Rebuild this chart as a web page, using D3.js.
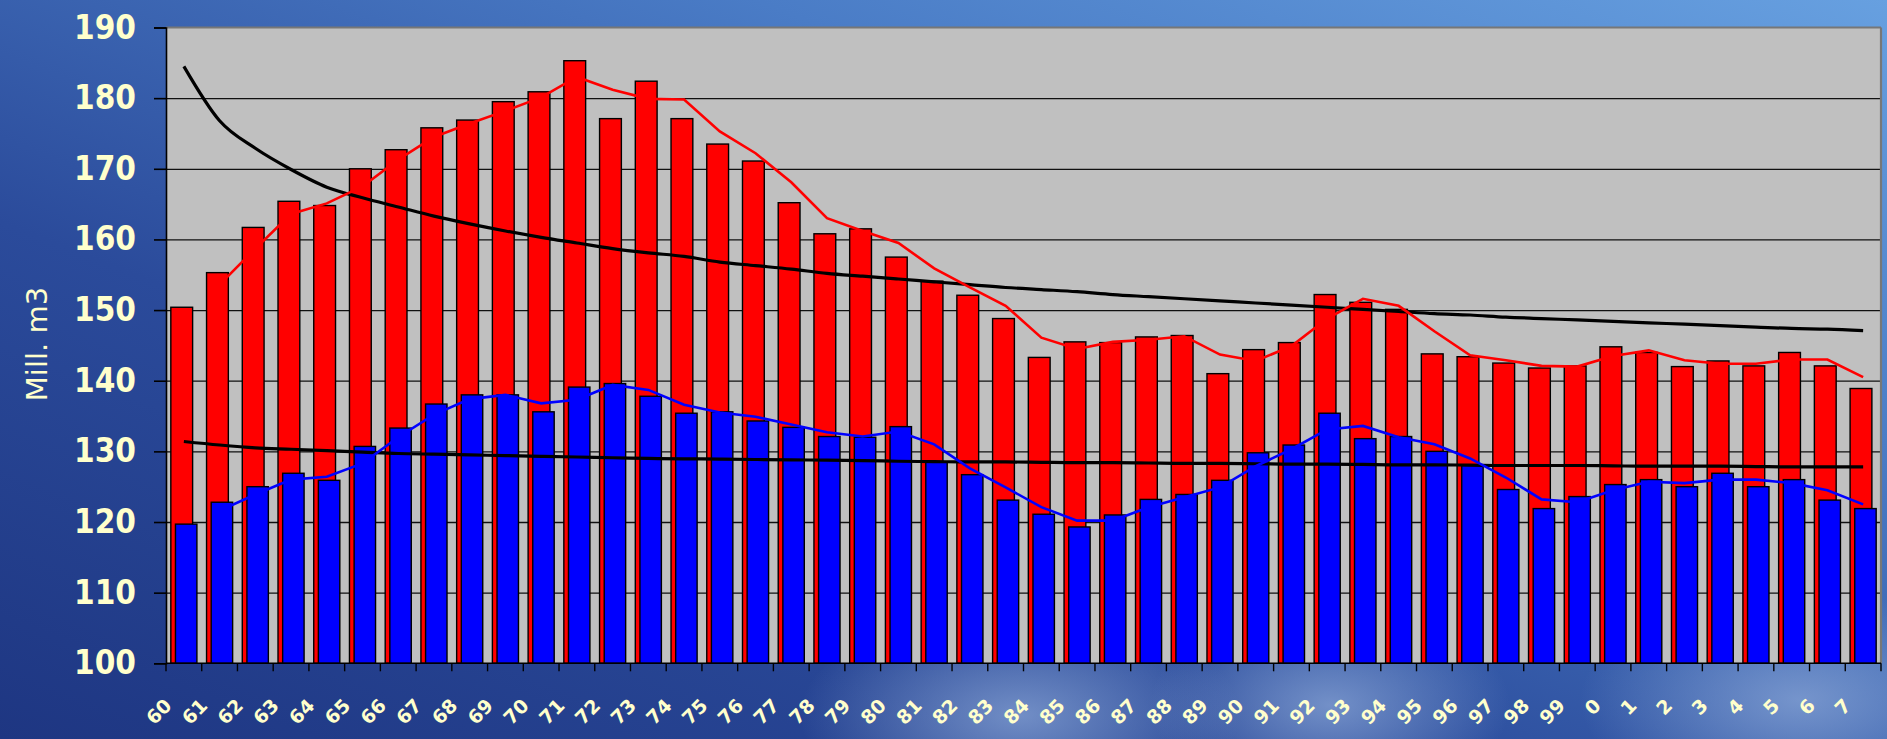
<!DOCTYPE html>
<html><head><meta charset="utf-8">
<script src="https://cdn.jsdelivr.net/npm/d3@7"></script>
<style>html,body{margin:0;padding:0;overflow:hidden;background:#2a4a98}</style>
</head><body>
<svg id="chart" width="1887" height="739"></svg>
<script>
// ---------- data ----------
const years = ["60","61","62","63","64","65","66","67","68","69","70","71","72","73","74","75","76","77","78","79",
  "80","81","82","83","84","85","86","87","88","89","90","91","92","93","94","95","96","97","98","99",
  "0","1","2","3","4","5","6","7"];
const redBars = [150.4,155.3,161.7,165.4,164.8,170.0,172.7,175.8,176.9,179.5,180.9,185.3,177.1,182.4,177.1,173.5,171.1,165.2,160.8,161.5,
  157.5,154.1,152.1,148.8,143.3,145.5,145.4,146.2,146.4,141.0,144.4,145.4,152.2,151.1,150.1,143.8,143.4,142.5,141.8,142.1,
  144.8,144.0,142.0,142.8,142.1,144.0,142.1,138.9];
const blueBars = [119.7,122.8,125.0,126.9,125.9,130.7,133.3,136.7,138.0,138.0,135.6,139.1,139.6,137.8,135.4,135.6,134.3,133.4,132.1,132.0,
  133.5,128.5,126.7,123.1,121.1,119.3,121.0,123.2,123.9,125.9,129.8,130.9,135.4,131.8,132.1,130.0,128.0,124.6,121.9,123.6,
  125.3,126.0,125.0,126.9,125.0,126.0,123.1,121.9];
const redLine = [null,153.6,158.7,163.6,165.1,167.5,171.3,174.5,176.4,178.2,180.1,183.0,181.2,179.9,179.8,175.3,172.2,168.1,163.0,161.2,
  159.5,155.9,153.2,150.6,146.1,144.5,145.5,145.8,146.3,143.7,142.8,144.9,148.8,151.6,150.6,147.0,143.6,142.9,142.1,142.0,
  143.5,144.3,142.9,142.4,142.4,143.0,143.0,140.5];
const blueLine = [null,121.6,123.9,126.0,126.4,128.3,132.0,135.2,137.4,138.0,136.8,137.3,139.4,138.7,136.6,135.5,134.9,133.8,132.7,132.1,
  132.8,131.0,127.6,124.9,122.1,120.2,120.2,122.1,123.5,124.9,127.9,130.3,133.1,133.6,132.0,131.0,129.0,126.3,123.2,122.8,
  124.5,125.7,125.5,126.0,126.0,125.5,124.5,122.5];
const redTrend = [184.5,176.8,172.9,169.9,167.4,165.9,164.6,163.3,162.2,161.2,160.3,159.5,158.7,158.1,157.6,156.8,156.3,155.8,155.2,154.8,
  154.4,154.0,153.6,153.2,152.9,152.6,152.2,151.9,151.6,151.3,151.0,150.7,150.4,150.1,149.8,149.5,149.3,149.0,148.8,148.6,
  148.4,148.2,148.0,147.8,147.6,147.4,147.3,147.1];
const blueTrend = [131.4,130.9,130.5,130.3,130.1,129.9,129.7,129.6,129.5,129.4,129.3,129.2,129.1,129.0,128.95,128.9,128.85,128.8,128.75,128.7,
  128.6,128.55,128.5,128.5,128.45,128.4,128.4,128.35,128.3,128.3,128.25,128.2,128.2,128.15,128.1,128.1,128.05,128.0,128.0,128.0,
  127.95,127.9,127.9,127.9,127.85,127.8,127.8,127.8];
const yTicks = [100,110,120,130,140,150,160,170,180,190];
const yTitle = "Mill. m3";

// ---------- layout ----------
const W = 1887, H = 739;
const L = 166, R = 1881, T = 27.5, B = 663.3;
const svg = d3.select("#chart");
const defs = svg.append("defs");

const bg = defs.append("linearGradient").attr("id","bg").attr("x1","0").attr("y1","1").attr("x2","1").attr("y2","0");
bg.append("stop").attr("offset","0").attr("stop-color","#1e3682");
bg.append("stop").attr("offset","0.35").attr("stop-color","#2b4b9b");
bg.append("stop").attr("offset","0.7").attr("stop-color","#4a7cc6");
bg.append("stop").attr("offset","1").attr("stop-color","#67a0e0");
const glow = defs.append("radialGradient").attr("id","glow");
glow.append("stop").attr("offset","0").attr("stop-color","#8aa6d6").attr("stop-opacity","0.75");
glow.append("stop").attr("offset","1").attr("stop-color","#8aa6d6").attr("stop-opacity","0");

svg.append("rect").attr("width",W).attr("height",H).attr("fill","url(#bg)");
svg.append("ellipse").attr("cx",1020).attr("cy",715).attr("rx",220).attr("ry",110).attr("fill","url(#glow)");
svg.append("ellipse").attr("cx",1330).attr("cy",705).attr("rx",180).attr("ry",100).attr("fill","url(#glow)");
svg.append("ellipse").attr("cx",1800).attr("cy",700).attr("rx",220).attr("ry",110).attr("fill","url(#glow)");

const x = d3.scaleBand().domain(years).range([L, R]).padding(0);
const y = d3.scaleLinear().domain([100, 190]).range([B, T]);
const bw = x.bandwidth();
const cx = d => x(d) + bw / 2;

// plot background
svg.append("rect").attr("x",L).attr("y",T).attr("width",R-L).attr("height",B-T).attr("fill","#c0c0c0");

// gridlines
svg.append("g").attr("transform",`translate(${L},0)`)
  .call(d3.axisLeft(y).tickValues(yTicks.filter(v => v > 100 && v < 190)).tickSize(-(R-L)).tickFormat(""))
  .call(g => g.select(".domain").remove())
  .call(g => g.selectAll("line").attr("stroke","#111").attr("stroke-width",1.3));

// red bars
svg.append("g").selectAll("rect").data(years).join("rect")
  .attr("x", d => x(d) + bw*0.135).attr("width", bw*0.61)
  .attr("y", (d,i) => y(redBars[i])).attr("height", (d,i) => B - y(redBars[i]))
  .attr("fill","#ff0000").attr("stroke","#000").attr("stroke-width",1.4);
// blue bars
svg.append("g").selectAll("rect").data(years).join("rect")
  .attr("x", d => x(d) + bw*0.265).attr("width", bw*0.6)
  .attr("y", (d,i) => y(blueBars[i])).attr("height", (d,i) => B - y(blueBars[i]))
  .attr("fill","#0000ff").attr("stroke","#000").attr("stroke-width",1.4);

// plot border top/right
svg.append("line").attr("x1",L).attr("x2",R).attr("y1",T).attr("y2",T).attr("stroke","#777").attr("stroke-width",2.2);
svg.append("line").attr("x1",R).attr("x2",R).attr("y1",T).attr("y2",B).attr("stroke","#777").attr("stroke-width",2.2);

// lines
const mk = arr => d3.line().defined((d,i) => arr[i] != null).x(d => cx(d)).y((d,i) => y(arr[i])).curve(d3.curveMonotoneX);
svg.append("path").datum(years).attr("d", mk(redTrend)).attr("fill","none").attr("stroke","#000").attr("stroke-width",3.2);
svg.append("path").datum(years).attr("d", mk(blueTrend)).attr("fill","none").attr("stroke","#000").attr("stroke-width",3.2);
svg.append("path").datum(years).attr("d", mk(redLine).curve(d3.curveLinear)).attr("fill","none").attr("stroke","#ff0000").attr("stroke-width",2.6);
svg.append("path").datum(years).attr("d", mk(blueLine).curve(d3.curveLinear)).attr("fill","none").attr("stroke","#0000ff").attr("stroke-width",2.6);

// y axis
svg.append("g").attr("transform",`translate(${L},0)`)
  .call(d3.axisLeft(y).tickValues(yTicks).tickSize(12).tickPadding(18).tickFormat(d3.format("d")))
  .call(g => g.select(".domain").attr("stroke","#000").attr("stroke-width",1.6))
  .call(g => g.selectAll("line").attr("stroke","#000").attr("stroke-width",1.6))
  .call(g => g.selectAll("text").attr("fill","#ffffcc")
     .style("font-family","'DejaVu Sans Condensed','DejaVu Sans',sans-serif").style("font-weight","bold").style("font-size","33px"));

// x axis line + ticks at category boundaries
svg.append("line").attr("x1",L).attr("x2",R).attr("y1",B).attr("y2",B).attr("stroke","#000").attr("stroke-width",1.6);
svg.append("g").selectAll("line").data(years.map(d => x(d)).concat([R])).join("line")
  .attr("x1", d => d).attr("x2", d => d).attr("y1", B).attr("y2", B + 8)
  .attr("stroke","#000").attr("stroke-width",1.4);
// x labels
svg.append("g").selectAll("text").data(years).join("text")
  .attr("transform", d => `translate(${cx(d) - 11},707) rotate(-45)`)
  .attr("text-anchor","end")
  .attr("fill","#ffffcc")
  .style("font-family","'DejaVu Sans',sans-serif").style("font-weight","bold").style("font-size","19px")
  .text(d => d);

// y title
svg.append("text").attr("transform","translate(47,344) rotate(-90)")
  .attr("text-anchor","middle").attr("fill","#ffffcc")
  .style("font-family","'DejaVu Sans',sans-serif").style("font-size","29px")
  .text(yTitle);
</script>
</body></html>
